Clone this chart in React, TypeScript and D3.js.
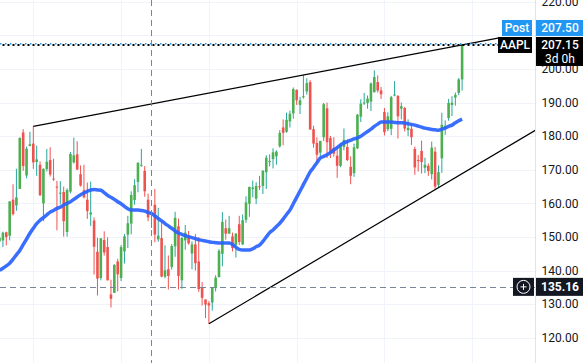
import { useEffect, useRef } from "react";
import * as d3 from "d3";

const WIDTH = 583;
const HEIGHT = 363;
const PLOT_RIGHT = 535;
const FONT = "Roboto, 'Noto Sans', sans-serif";

// AAPL weekly candles, week of 2021-10-25 .. 2024-06-10 (index 0..137)
const opens = [
  148.7, 149.0, 151.4, 150.4, 161.1, 159.4, 164.3, 181.1, 168.3, 177.1,
  177.8, 172.3, 171.5, 160.0, 170.2, 172.9, 167.4, 165.0, 163.1, 163.4,
  151.5, 163.5, 172.2, 174.6, 168.7, 163.9, 161.1, 156.7, 154.9, 145.6,
  137.8, 149.1, 147.0, 132.9, 133.4, 142.7, 137.8, 145.7, 150.7, 154.0,
  161.0, 166.4, 171.5, 169.7, 161.1, 156.5, 159.6, 149.3, 149.7, 138.2,
  140.4, 141.1, 147.2, 153.2, 137.1, 149.0, 150.2, 145.1, 147.8, 142.7,
  135.1, 131.4, 130.3, 130.5, 134.8, 138.1, 145.0, 152.6, 151.0, 150.2,
  147.7, 153.8, 147.8, 155.1, 159.9, 164.3, 161.4, 165.1, 165.2, 169.3,
  172.5, 173.2, 174.0, 177.0, 182.6, 181.3, 184.4, 186.8, 193.8, 189.3,
  191.9, 193.3, 196.1, 182.1, 178.0, 175.1, 179.7, 188.3, 179.5, 176.5,
  174.2, 171.2, 176.8, 176.8, 170.9, 169.0, 176.4, 185.8, 189.9, 189.9,
  190.3, 193.1, 196.1, 193.6, 187.2, 182.1, 182.2, 192.3, 192.0, 188.2,
  188.4, 181.8, 182.2, 176.2, 172.9, 175.6, 170.6, 171.2, 168.7, 175.4,
  165.5, 173.4, 182.4, 185.4, 189.3, 191.5, 192.9, 196.9,
];
const highs = [
  153.2, 151.6, 151.6, 160.6, 165.7, 170.3, 179.6, 182.1, 176.9, 181.3,
  182.9, 177.2, 172.5, 170.4, 176.2, 176.7, 173.3, 166.7, 166.6, 165.0,
  164.5, 175.3, 179.6, 178.5, 171.3, 171.5, 166.2, 166.5, 155.8, 149.8,
  149.7, 151.7, 149.9, 137.3, 141.9, 143.5, 147.6, 150.9, 156.3, 163.6,
  167.2, 172.2, 176.2, 171.1, 162.9, 157.8, 164.3, 158.7, 154.7, 147.5,
  144.5, 147.9, 157.5, 155.5, 150.0, 153.6, 151.8, 148.7, 150.9, 150.0,
  136.6, 131.4, 130.9, 134.9, 138.6, 146.4, 157.4, 155.2, 156.3, 151.3,
  151.1, 156.3, 156.7, 162.1, 165.0, 166.8, 166.3, 168.2, 169.9, 174.3,
  174.6, 176.4, 175.8, 181.8, 185.0, 187.0, 187.6, 194.5, 193.9, 191.7,
  198.2, 197.2, 196.7, 183.1, 179.7, 178.6, 189.9, 190.0, 180.1, 179.7,
  177.0, 178.0, 182.3, 179.1, 174.0, 177.8, 186.6, 191.0, 192.9, 192.1,
  196.0, 199.6, 198.1, 194.7, 188.4, 187.1, 192.0, 196.4, 192.2, 190.0,
  188.7, 185.0, 183.9, 176.9, 174.4, 178.7, 173.6, 171.9, 178.4, 176.8,
  171.3, 187.0, 184.7, 191.1, 191.9, 193.0, 197.3, 207.16,
];
const lows = [
  146.4, 147.0, 147.5, 149.0, 156.4, 157.8, 164.3, 169.7, 167.5, 177.0,
  170.3, 168.2, 162.3, 154.7, 169.5, 168.0, 166.7, 152.0, 159.7, 150.1,
  150.1, 163.0, 171.9, 169.9, 165.0, 161.5, 155.4, 153.3, 138.8, 132.6,
  137.1, 144.5, 137.1, 129.0, 133.3, 133.8, 136.9, 142.1, 146.7, 150.8,
  159.6, 163.3, 170.9, 162.0, 154.7, 152.7, 148.4, 148.6, 138.0, 137.7,
  134.4, 140.3, 144.1, 134.4, 134.6, 146.2, 147.7, 140.4, 140.0, 133.7,
  129.6, 125.9, 124.17, 128.1, 133.8, 137.9, 141.3, 149.2, 150.9, 145.7,
  143.9, 147.6, 147.6, 154.2, 156.0, 161.8, 159.8, 164.0, 162.8, 164.3,
  171.0, 170.4, 171.5, 176.6, 177.3, 181.0, 182.6, 185.2, 189.3, 186.6,
  191.2, 192.4, 181.9, 176.6, 172.0, 173.7, 178.6, 173.5, 173.5, 173.9,
  167.6, 170.8, 175.8, 172.6, 165.7, 167.9, 176.2, 184.2, 189.3, 188.2,
  187.5, 193.0, 193.0, 191.1, 180.2, 181.5, 180.3, 191.9, 179.3, 185.0,
  181.4, 180.0, 177.4, 168.5, 169.5, 168.9, 169.0, 168.2, 167.1, 164.08,
  164.8, 169.1, 180.4, 184.6, 186.0, 189.1, 192.2, 193.6,
];
const closes = [
  149.8, 151.3, 150.0, 160.6, 156.8, 161.8, 179.5, 171.1, 176.3, 177.6,
  172.2, 173.1, 162.4, 170.3, 172.4, 168.6, 167.3, 164.9, 163.2, 154.7,
  164.0, 174.7, 174.3, 170.1, 165.3, 161.8, 157.7, 157.3, 147.1, 137.6,
  149.6, 145.4, 137.1, 131.6, 141.7, 138.9, 147.0, 150.2, 154.1, 162.5,
  165.4, 172.1, 171.5, 163.6, 155.8, 157.4, 150.7, 150.4, 138.2, 140.1,
  138.4, 147.3, 155.7, 138.4, 149.7, 151.3, 148.1, 147.8, 142.2, 134.5,
  131.9, 129.9, 129.6, 134.8, 137.9, 145.9, 154.5, 151.0, 152.6, 146.7,
  151.0, 148.5, 155.0, 160.3, 164.9, 164.7, 165.2, 165.0, 169.7, 173.6,
  172.6, 175.2, 175.4, 181.0, 181.0, 184.9, 186.7, 194.0, 190.7, 190.7,
  191.9, 195.8, 182.0, 177.8, 174.5, 178.6, 189.5, 178.2, 175.0, 174.8,
  171.2, 177.5, 178.9, 172.9, 168.2, 176.7, 186.4, 189.7, 190.0, 191.2,
  195.7, 197.6, 193.6, 192.5, 181.2, 185.9, 191.6, 192.4, 185.9, 188.9,
  182.3, 182.5, 179.7, 170.7, 172.6, 172.3, 171.5, 169.6, 176.6, 165.0,
  169.3, 183.4, 183.1, 189.9, 190.0, 192.3, 196.9, 207.15,
];
// moving average
const movingAvg = [
  140.1, 140.7, 141.4, 142.2, 143.4, 144.7, 146.0, 147.7, 149.4, 151.1,
  152.6, 154.0, 155.0, 155.8, 156.6, 157.4, 157.9, 158.5, 158.9, 159.5,
  160.0, 160.5, 161.2, 161.9, 162.6, 163.1, 163.6, 164.0, 164.1, 164.0,
  163.9, 163.2, 162.4, 161.8, 161.2, 160.5, 159.9, 159.1, 158.4, 158.0,
  158.0, 158.0, 157.9, 157.7, 157.3, 157.0, 156.3, 155.5, 154.8, 154.0,
  153.3, 152.6, 151.8, 151.2, 150.8, 150.4, 150.1, 149.8, 149.5, 149.2,
  149.0, 148.8, 148.6, 148.4, 148.3, 148.2, 148.2, 148.2, 148.2, 147.8,
  147.0, 146.3, 146.1, 146.1, 146.1, 146.5, 147.1, 147.6, 148.7, 150.0,
  151.3, 152.1, 153.1, 154.1, 155.3, 156.7, 158.0, 159.9, 161.8, 163.7,
  165.6, 167.5, 169.4, 170.7, 172.1, 173.5, 174.0, 174.5, 175.1, 175.9,
  176.6, 177.4, 178.0, 178.4, 178.8, 179.2, 179.5, 180.0, 180.7, 181.4,
  182.1, 182.9, 183.6, 184.2, 184.2, 184.2, 184.2, 184.1, 184.0, 184.0,
  183.9, 183.7, 183.5, 183.3, 183.0, 182.7, 182.4, 182.2, 182.0, 181.9,
  181.8, 182.1, 182.4, 182.9, 183.3, 184.0, 184.6, 185.1,
];

const priceTicks = [120, 130, 140, 150, 160, 170, 180, 190, 200, 210, 220];
const halfYearIdx = [10, 36, 62, 88, 114, 140];
const crossIdx = 45;
const crossPrice = 135.16;
const lastPrice = 207.15;
const postPrice = 207.5;
const upperTrend: [number, number][] = [[10, 182.94], [137, 207.16]];
const lowerTrend: [number, number][] = [[62, 124.17], [129, 164.08]];

const UP = "#4caf50";
const UP_WICK = "#26a69a";
const DOWN = "#ef5350";

const App = () => {
  const svgRef = useRef<SVGSVGElement | null>(null);

  useEffect(() => {
    const svg = d3.select(svgRef.current);
    svg.selectAll("*").remove();

    const x = d3.scaleLinear().domain([0, 137]).range([-0.46, 462.1]);
    const y = d3.scaleLinear().domain([120, 220]).range([337.8, 1.8]);
    const lastIdx = x.invert(PLOT_RIGHT);
    const yLast = y(lastPrice);
    const yPost = yLast - 17; // post tag sits stacked above the last-price tag

    svg.append("rect").attr("width", WIDTH).attr("height", HEIGHT).attr("fill", "#ffffff");

    svg.append("clipPath").attr("id", "plot-clip")
      .append("rect").attr("width", PLOT_RIGHT).attr("height", HEIGHT);

    const plot = svg.append("g").attr("clip-path", "url(#plot-clip)");

    // grid
    plot.append("g").selectAll("line").data(priceTicks).join("line")
      .attr("x1", 0).attr("x2", PLOT_RIGHT)
      .attr("y1", (d) => Math.round(y(d)) + 0.5).attr("y2", (d) => Math.round(y(d)) + 0.5)
      .attr("stroke", "#f0f3fa");
    plot.append("g").selectAll("line").data(halfYearIdx).join("line")
      .attr("x1", (d) => Math.round(x(d)) + 0.5).attr("x2", (d) => Math.round(x(d)) + 0.5)
      .attr("y1", 0).attr("y2", HEIGHT)
      .attr("stroke", "#f0f3fa");

    // candles
    const idx = d3.range(opens.length);
    const candles = plot.append("g").selectAll("g").data(idx).join("g");
    candles.append("line")
      .attr("x1", (i) => x(i)).attr("x2", (i) => x(i))
      .attr("y1", (i) => y(highs[i])).attr("y2", (i) => y(lows[i]))
      .attr("stroke", (i) => (closes[i] >= opens[i] ? UP_WICK : DOWN))
      .attr("stroke-width", 1);
    candles.append("rect")
      .attr("x", (i) => x(i) - 1.3)
      .attr("width", 2.6)
      .attr("y", (i) => y(Math.max(opens[i], closes[i])))
      .attr("height", (i) => Math.max(1, Math.abs(y(opens[i]) - y(closes[i]))))
      .attr("fill", (i) => (closes[i] >= opens[i] ? UP : DOWN));

    // moving average
    plot.append("path")
      .datum(idx)
      .attr("d", d3.line<number>().x((i) => x(i)).y((i) => y(movingAvg[i])).curve(d3.curveMonotoneX))
      .attr("fill", "none")
      .attr("stroke", "#2962ff")
      .attr("stroke-width", 3.5)
      .attr("stroke-opacity", 0.92);

    // trend lines
    const extend = (pts: [number, number][], toIdx: number): [number, number][] => {
      const [[i0, p0], [i1, p1]] = pts;
      const slope = (p1 - p0) / (i1 - i0);
      return [[i0, p0], [toIdx, p0 + slope * (toIdx - i0)]];
    };
    const trend = d3.line<[number, number]>().x((d) => x(d[0])).y((d) => y(d[1]));
    plot.append("path").attr("d", trend(extend(upperTrend, 148)))
      .attr("stroke", "#000").attr("stroke-width", 1.2).attr("fill", "none");
    plot.append("path").attr("d", trend(extend(lowerTrend, lastIdx + 2)))
      .attr("stroke", "#000").attr("stroke-width", 1.2).attr("fill", "none");

    // price lines
    plot.append("line")
      .attr("x1", 0).attr("x2", 500)
      .attr("y1", y(postPrice)).attr("y2", y(postPrice))
      .attr("stroke", "#2196f3").attr("stroke-width", 1.5).attr("stroke-dasharray", "1.5,3.5");
    plot.append("line")
      .attr("x1", 2.5).attr("x2", 500)
      .attr("y1", yLast).attr("y2", yLast)
      .attr("stroke", "#000").attr("stroke-width", 2).attr("stroke-dasharray", "2,3");

    // crosshair
    plot.append("line")
      .attr("x1", Math.round(x(crossIdx)) + 0.5).attr("x2", Math.round(x(crossIdx)) + 0.5)
      .attr("y1", 0).attr("y2", HEIGHT)
      .attr("stroke", "#758696").attr("stroke-dasharray", "6,4");
    plot.append("line")
      .attr("x1", 0).attr("x2", PLOT_RIGHT)
      .attr("y1", Math.round(y(crossPrice)) + 0.5).attr("y2", Math.round(y(crossPrice)) + 0.5)
      .attr("stroke", "#758696").attr("stroke-dasharray", "6,4");

    // price axis (ticks hidden under the price tags are left out)
    svg.append("line")
      .attr("x1", PLOT_RIGHT + 0.5).attr("x2", PLOT_RIGHT + 0.5)
      .attr("y1", 0).attr("y2", HEIGHT)
      .attr("stroke", "#e0e3eb");
    const visibleTicks = priceTicks.filter((d) => Math.abs(y(d) - yLast) > 14);
    svg.append("g").selectAll("text").data(visibleTicks).join("text")
      .attr("x", 560).attr("y", (d) => y(d))
      .attr("dy", "0.35em")
      .attr("text-anchor", "middle")
      .attr("font-family", FONT).attr("font-size", 12)
      .attr("fill", "#131722")
      .text((d) => d.toFixed(2));

    const tag = (bx: number, by: number, w: number, h: number, fill: string) =>
      svg.append("rect").attr("x", bx).attr("y", by).attr("width", w).attr("height", h).attr("fill", fill);
    const label = (tx: number, ty: number, txt: string, weight = 400) =>
      svg.append("text").attr("x", tx).attr("y", ty).attr("dy", "0.35em")
        .attr("text-anchor", "middle").attr("font-family", FONT).attr("font-size", 12)
        .attr("font-weight", weight).attr("fill", "#ffffff").text(txt);

    tag(502, yPost - 8, 30, 16, "#2196f3");
    label(517, yPost, "Post", 500);
    tag(PLOT_RIGHT + 1, yPost - 8, WIDTH - PLOT_RIGHT - 1, 16, "#2196f3");
    label(560, yPost, postPrice.toFixed(2), 500);

    tag(498, yLast - 8, 34, 16, "#000000");
    label(515, yLast, "AAPL", 500);
    tag(PLOT_RIGHT + 1, yLast - 8, WIDTH - PLOT_RIGHT - 1, 29, "#000000");
    label(560, yLast, lastPrice.toFixed(2), 500);
    label(560, yLast + 14, "3d 0h");

    const yc = y(crossPrice);
    tag(513, yc - 9, 21, 18, "#131722");
    svg.append("circle").attr("cx", 523.5).attr("cy", yc).attr("r", 6.5)
      .attr("fill", "none").attr("stroke", "#ffffff").attr("stroke-width", 1);
    svg.append("path")
      .attr("d", `M520.5,${yc}H526.5M523.5,${yc - 3}V${yc + 3}`)
      .attr("stroke", "#ffffff").attr("stroke-width", 1);
    tag(PLOT_RIGHT + 1, yc - 9, WIDTH - PLOT_RIGHT - 1, 18, "#131722");
    label(560, yc, crossPrice.toFixed(2), 700);
  }, []);

  return (
    <svg
      ref={svgRef}
      width={WIDTH}
      height={HEIGHT}
      style={{ position: "absolute", left: 0, top: 0, display: "block" }}
    />
  );
};

export default App;
